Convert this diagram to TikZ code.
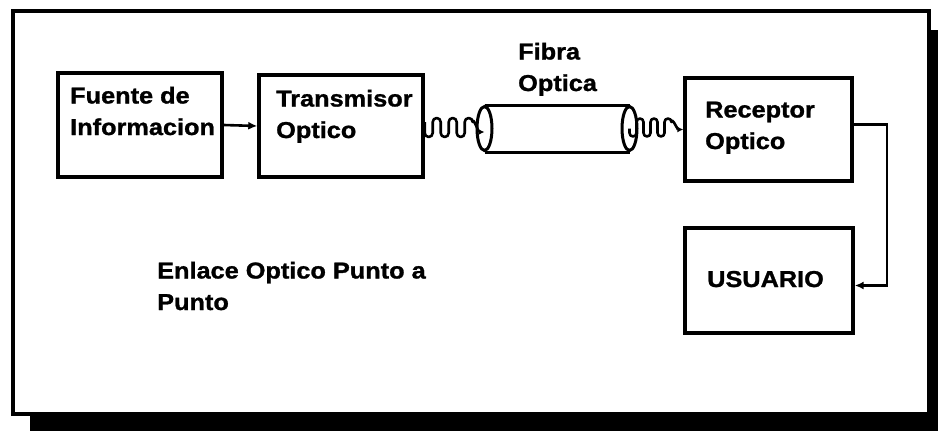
\documentclass[tikz,border=0pt]{standalone}
\usepackage{fontspec}
\setmainfont{Liberation Sans}[FakeStretch=1.1,BoldFeatures={FakeBold=1.2}]
\usetikzlibrary{arrows.meta,shapes.geometric}
\begin{document}
\begin{tikzpicture}[x=1pt,y=-1pt,
  blk/.style={draw,line width=3.4pt,minimum width=#1,inner sep=0pt},
  txt/.style={anchor=base west,align=left,inner sep=0pt,font=\fontsize{23}{31.5}\selectfont\bfseries},
  fib/.style={draw,ellipse,line width=3pt,minimum width=15pt,minimum height=44pt,inner sep=0pt},
  arr/.style={line width=2.6pt,-{Latex[length=9pt,width=8pt]}},
  wave/.style={line width=2.6pt,line join=round,-{Latex[length=6pt,width=6pt]}},
  dn/.style={start angle=180,end angle=0,radius=#1},
  up/.style={start angle=180,end angle=360,radius=#1}]
\useasboundingbox (0,0) rectangle (938,431);
% shadow and frame
\fill[black] (30,30) rectangle (938,431);
\draw[fill=white,line width=3.5pt] (13,11) rectangle (929,414);
% boxes
\node[blk=164pt,minimum height=104pt] (fu) at (140,125) {};
\node[blk=164pt,minimum height=102pt] (tx) at (341,126) {};
\node[blk=167pt,minimum height=103pt] (rx) at (768.5,129.5) {};
\node[blk=168pt,minimum height=105pt] (us) at (769,280.5) {};
% texts
\node[txt] (fut) at (70,135) {Fuente de\\Informacion};
\node[txt] (txt) at (276,138) {Transmisor\\Optico};
\node[txt] (rxt) at (705,149) {Receptor\\Optico};
\node[txt] (ust) at (707,287) {USUARIO};
\node[txt] (fibt) at (518,91) {Fibra\\Optica};
\node[txt] (enl) at (157,310) {Enlace Optico Punto a\\Punto};
% fibre
\node[fib] (lf) at (484.5,128.5) {};
\node[fib] (rf) at (629.5,128.5) {};
\draw[line width=3pt] (lf.north) -- (rf.north);
\draw[line width=3pt] (lf.south) -- (rf.south);
% connectors
\draw[arr] (fu.east) -- (tx.west);
\coordinate (lend) at (484.5,132);
\draw[wave] ([yshift=4pt]tx.east) -- ++(0,11) arc[dn=4] -- ++(0,-11) arc[up=4]
  -- ++(0,11) arc[dn=4] -- ++(0,-11) arc[up=4]
  -- ++(0,11) arc[dn=4] -- ++(0,-11) arc[up=4]
  to[out=90,in=180] (lend);
\draw[wave] (rf.center) -- ++(0,4.5) arc[dn=3.5] -- ++(0,-11) arc[up=3.5]
  -- ++(0,11) arc[dn=3.5] -- ++(0,-11) arc[up=3.5]
  -- ++(0,11) arc[dn=3.5] -- ++(0,-11) arc[up=3.5]
  to[out=90,in=180] (rx.west);
\coordinate (bend) at (887,200);
\draw[arr] ([yshift=5pt]rx.east) -| (bend) |- ([yshift=-5pt]us.east);
\end{tikzpicture}
\end{document}
